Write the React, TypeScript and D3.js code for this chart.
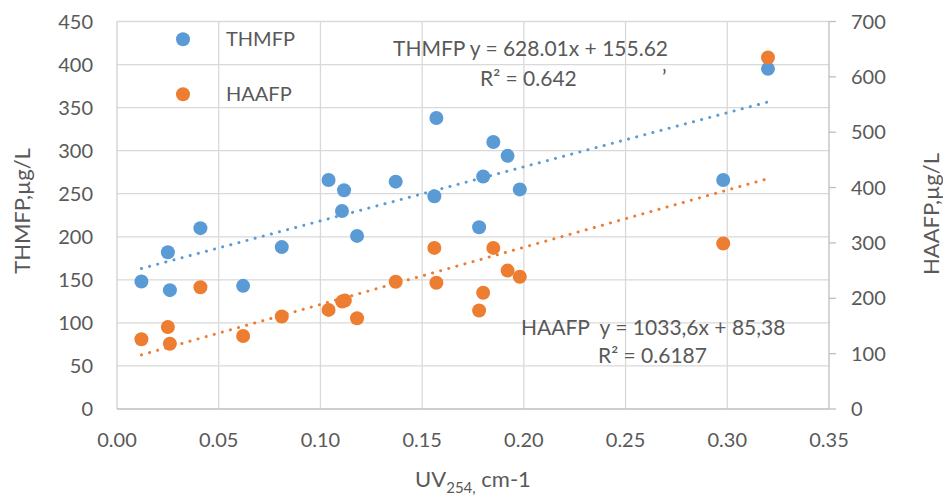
import React from "react";
import * as d3 from "d3";

const uvThm = [0.012, 0.025, 0.026, 0.041, 0.062, 0.081, 0.104, 0.1116, 0.1106, 0.118, 0.137, 0.157, 0.156, 0.178, 0.180, 0.185, 0.192, 0.198, 0.298, 0.320];
const thmfp = [148, 182, 138, 210, 143, 188, 266, 254, 230, 201, 264, 338, 247, 211, 270, 310, 294, 255, 266, 395];

const uvHaa = [0.012, 0.025, 0.026, 0.041, 0.062, 0.081, 0.104, 0.1107, 0.112, 0.118, 0.137, 0.157, 0.156, 0.185, 0.192, 0.198, 0.180, 0.178, 0.298, 0.320];
const haafp = [126, 148, 118, 220, 132, 167, 179, 194, 196, 164, 230, 228, 291, 291, 250, 239, 210, 178, 299, 635];

const xTicks = [0, 0.05, 0.1, 0.15, 0.2, 0.25, 0.3, 0.35];
const yLeftTicks = [0, 50, 100, 150, 200, 250, 300, 350, 400, 450];
const yRightTicks = [0, 100, 200, 300, 400, 500, 600, 700];

const thmTrend = { slope: 628.01, intercept: 155.62 };
const haaTrend = { slope: 1033.6, intercept: 85.38 };

const BLUE = "#5B9BD5";
const ORANGE = "#ED7D31";
const TEXT = "#595959";
const FONT = "Lato, 'Open Sans', sans-serif";

export default function App() {
  const W = 943, H = 496;
  const left = 117, right = 829, top = 21.5, bottom = 409;
  const x = d3.scaleLinear().domain([0, 0.35]).range([left, right]);
  const yL = d3.scaleLinear().domain([0, 450]).range([bottom, top]);
  const yR = d3.scaleLinear().domain([0, 700]).range([bottom, top]);

  const xMinT = d3.min(uvThm)!, xMaxT = d3.max(uvThm)!;
  const xMinH = d3.min(uvHaa)!, xMaxH = d3.max(uvHaa)!;
  const lineL = d3.line<number>().x((d) => x(d)).y((d) => yL(thmTrend.slope * d + thmTrend.intercept));
  const lineR = d3.line<number>().x((d) => x(d)).y((d) => yR(haaTrend.slope * d + haaTrend.intercept));

  return (
    <svg width={W} height={H} style={{ position: "absolute", left: 0, top: 0, background: "#fff" }} fontFamily={FONT}>
      <rect width={W} height={H} fill="#fff" />
      {/* grid */}
      {yLeftTicks.slice(1).map((t) => (
        <line key={"h" + t} x1={left} x2={right} y1={yL(t)} y2={yL(t)} stroke="#d9d9d9" strokeWidth={1.3} />
      ))}
      {xTicks.slice(1, -1).map((t) => (
        <line key={"v" + t} x1={x(t)} x2={x(t)} y1={top} y2={bottom} stroke="#d9d9d9" strokeWidth={1.3} />
      ))}
      {/* axes */}
      <line x1={left} x2={left} y1={top} y2={bottom} stroke="#d0d0d0" strokeWidth={1.3} />
      <line x1={right} x2={right} y1={top} y2={bottom} stroke="#bfbfbf" strokeWidth={1.3} />
      <line x1={left} x2={right} y1={bottom} y2={bottom} stroke="#bfbfbf" strokeWidth={1.5} />
      {yRightTicks.map((t) => (
        <line key={"rt" + t} x1={right} x2={right + 7} y1={yR(t)} y2={yR(t)} stroke="#bfbfbf" strokeWidth={1.3} />
      ))}
      {/* tick labels */}
      {yLeftTicks.map((t) => (
        <text key={"yl" + t} x={93} y={yL(t)} dy="0.35em" textAnchor="end" fontSize={20} fill={TEXT}>{t}</text>
      ))}
      {yRightTicks.map((t) => (
        <text key={"yr" + t} x={851} y={yR(t)} dy="0.35em" textAnchor="start" fontSize={20} fill={TEXT}>{t}</text>
      ))}
      {xTicks.map((t) => (
        <text key={"xt" + t} x={x(t)} y={446.5} textAnchor="middle" fontSize={20} fill={TEXT}>{t.toFixed(2)}</text>
      ))}
      {/* axis titles */}
      <text x={473} y={487} textAnchor="middle" fontSize={22} fill={TEXT}>
        <tspan>UV</tspan>
        <tspan dy={6} fontSize={15}>254,</tspan>
        <tspan dy={-6}> cm-1</tspan>
      </text>
      <text transform={`translate(30,211) rotate(-90)`} textAnchor="middle" fontSize={22} fill={TEXT}>THMFP,µg/L</text>
      <text transform={`translate(938.5,214) rotate(-90)`} textAnchor="middle" fontSize={22} fill={TEXT}>HAAFP,µg/L</text>
      {/* trendlines */}
      <path d={lineL([xMinT, xMaxT])!} stroke={BLUE} strokeWidth={3} strokeLinecap="round" strokeDasharray="0.1 8.3" fill="none" />
      <path d={lineR([xMinH, xMaxH])!} stroke={ORANGE} strokeWidth={3} strokeLinecap="round" strokeDasharray="0.1 8.3" fill="none" />
      {/* points */}
      {uvThm.map((u, i) => (
        <circle key={"b" + i} cx={x(u)} cy={yL(thmfp[i])} r={7} fill={BLUE} />
      ))}
      {uvHaa.map((u, i) => (
        <circle key={"o" + i} cx={x(u)} cy={yR(haafp[i])} r={7} fill={ORANGE} />
      ))}
      {/* legend */}
      <circle cx={183} cy={39.3} r={7} fill={BLUE} />
      <text x={226} y={46} fontSize={20} fill={TEXT}>THMFP</text>
      <circle cx={183} cy={94.3} r={7} fill={ORANGE} />
      <text x={226} y={101} fontSize={20} fill={TEXT}>HAAFP</text>
      {/* equations */}
      <text x={393} y={56} fontSize={21} fill={TEXT}>THMFP y = 628.01x + 155.62</text>
      <text x={480} y={86} fontSize={21} fill={TEXT}>R² = 0.642</text>
      <text x={662} y={85} fontSize={21} fill={TEXT}>’</text>
      <text x={521} y={335} fontSize={21} fill={TEXT} style={{ whiteSpace: "pre" }}>{"HAAFP  y = 1033,6x + 85,38"}</text>
      <text x={598} y={363} fontSize={21} fill={TEXT}>R² = 0.6187</text>
    </svg>
  );
}
